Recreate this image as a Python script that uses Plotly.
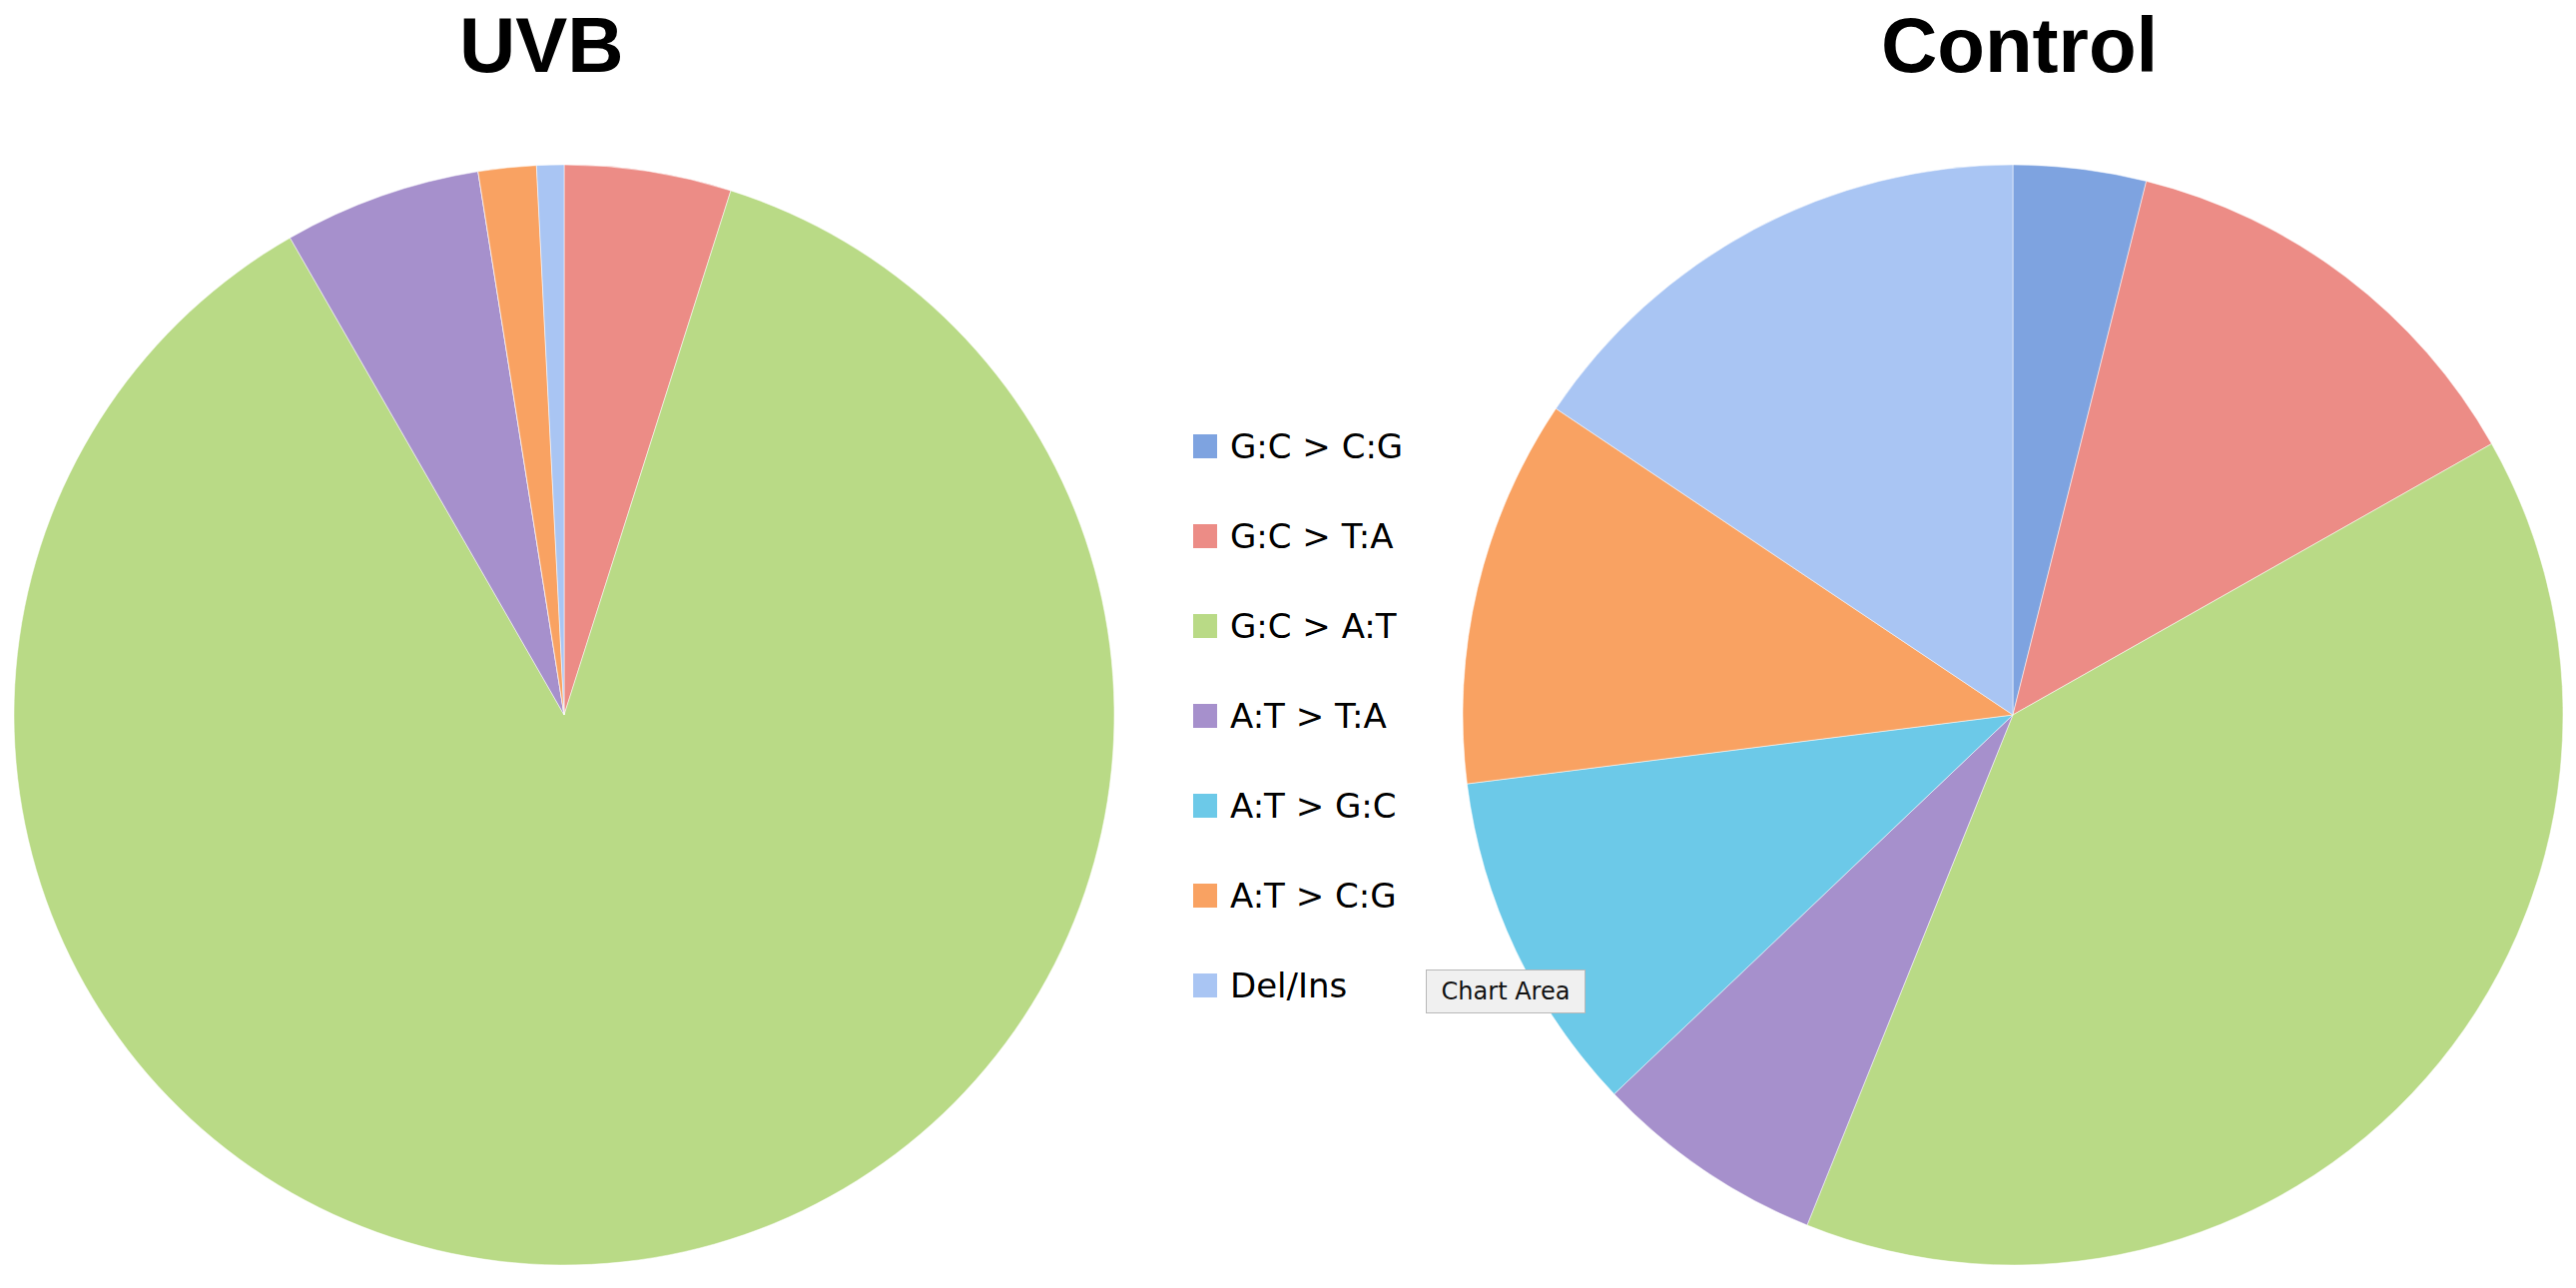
import plotly.graph_objects as go

W, H = 2580, 1290

categories = ["G:C > C:G", "G:C > T:A", "G:C > A:T", "A:T > T:A", "A:T > G:C", "A:T > C:G", "Del/Ins"]
uvb_values = [0, 4.9, 86.8, 5.8, 0, 1.7, 0.8]
control_values = [3.9, 12.9, 39.3, 6.8, 10.1, 11.4, 15.6]
titles = ["UVB", "Control"]
colors = ["#7ea3e0", "#ec8c86", "#b9da86", "#a690cc", "#6cc9e8", "#f9a262", "#a9c5f3"]

def px_x(v):
    return v / W

def px_y(v):
    return 1 - v / H

R = 551
CY = 716
centers_x = [565, 2016]

fig = go.Figure()
for vals, cx, name in zip([uvb_values, control_values], centers_x, titles):
    fig.add_trace(go.Pie(
        labels=categories,
        values=vals,
        name=name,
        sort=False,
        direction="clockwise",
        rotation=0,
        textinfo="none",
        marker=dict(colors=colors, line=dict(color="rgba(255,255,255,0.5)", width=1)),
        domain=dict(x=[px_x(cx - R), px_x(cx + R)], y=[px_y(CY + R), px_y(CY - R)]),
        showlegend=False,
    ))

annotations = []
title_x = [542, 2022]
for t, tx in zip(titles, title_x):
    annotations.append(dict(
        text=t, x=px_x(tx), y=1, xref="paper", yref="paper",
        xanchor="center", yanchor="top", showarrow=False, borderpad=0,
        font=dict(family="Liberation Sans, Arial", size=78, color="black", weight="bold"),
    ))

# legend (manual, to match spacing of the original)
shapes = []
leg_y0 = 447
leg_step = 90
for i, (cat, col) in enumerate(zip(categories, colors)):
    yc = leg_y0 + i * leg_step
    shapes.append(dict(
        type="rect", xref="paper", yref="paper",
        x0=px_x(1195), x1=px_x(1219), y0=px_y(yc + 12), y1=px_y(yc - 12),
        fillcolor=col, line=dict(width=0),
    ))
    annotations.append(dict(
        text=cat, x=px_x(1230), y=px_y(yc), xref="paper", yref="paper",
        xanchor="left", yanchor="middle", showarrow=False,
        font=dict(family="DejaVu Sans", size=34, color="black"),
    ))

# tooltip seen in the original screenshot
annotations.append(dict(
    text="Chart Area", x=px_x(1508), y=px_y(993), xref="paper", yref="paper",
    xanchor="center", yanchor="middle", showarrow=False,
    font=dict(family="DejaVu Sans", size=24, color="#111111"),
    bgcolor="#f0f0f0", bordercolor="#b8b8b8", borderwidth=1,
    width=156, height=40,
))

fig.update_layout(
    width=W, height=H,
    margin=dict(l=0, r=0, t=0, b=0),
    paper_bgcolor="white", plot_bgcolor="white",
    annotations=annotations,
    shapes=shapes,
)

fig.write_html("out.html", config={"displayModeBar": False},
               post_script="document.body.style.margin='0';")
